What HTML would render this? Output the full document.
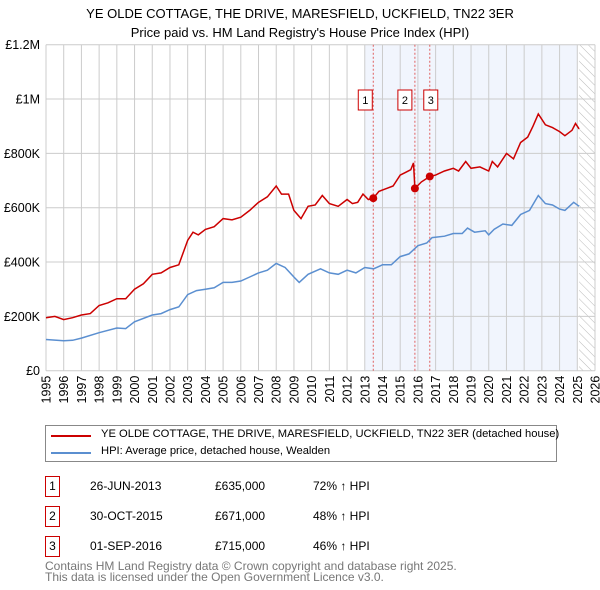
<!DOCTYPE html>
<html><head><meta charset="utf-8"><style>
body{margin:0;width:600px;height:590px;background:#fff;font-family:"Liberation Sans","DejaVu Sans",sans-serif;overflow:hidden;position:relative}
.t{position:absolute;font-size:12px;color:#000;white-space:nowrap}
</style></head><body>
<div style="position:absolute;left:0;width:600px;top:4px;text-align:center;font-size:13px;line-height:19px">YE OLDE COTTAGE, THE DRIVE, MARESFIELD, UCKFIELD, TN22 3ER<br>Price paid vs. HM Land Registry's House Price Index (HPI)</div>
<svg id="ch" width="600" height="420" style="position:absolute;left:0;top:0" font-family="Liberation Sans, DejaVu Sans, sans-serif"></svg>
<div style="position:absolute;left:45px;top:425px;width:510px;height:35px;border:1px solid #888">
<div style="position:absolute;left:5px;top:9px;width:40px;height:2px;background:#cc0000"></div>
<div class="t" style="left:55px;top:2px;font-size:11.2px">YE OLDE COTTAGE, THE DRIVE, MARESFIELD, UCKFIELD, TN22 3ER (detached house)</div>
<div style="position:absolute;left:5px;top:26px;width:40px;height:2px;background:#5b8fd0"></div>
<div class="t" style="left:55px;top:19px;font-size:11.2px">HPI: Average price, detached house, Wealden</div>
</div>
<div id="tbl"></div>
<div style="position:absolute;left:45px;top:561px;font-size:12px;line-height:11px;color:#777">Contains HM Land Registry data © Crown copyright and database right 2025.<br>This data is licensed under the Open Government Licence v3.0.</div>
<script>
const redYears=[1995,1995.5,1996,1996.5,1997,1997.5,1998,1998.5,1999,1999.5,2000,2000.5,2001,2001.5,2002,2002.5,2003,2003.3,2003.6,2004,2004.5,2005,2005.5,2006,2006.5,2007,2007.5,2008,2008.3,2008.7,2009,2009.4,2009.8,2010.2,2010.6,2011,2011.5,2012,2012.3,2012.6,2012.9,2013.2,2013.48,2013.8,2014.2,2014.6,2015,2015.3,2015.6,2015.75,2015.83,2016.2,2016.67,2017,2017.5,2018,2018.3,2018.7,2019,2019.5,2020,2020.2,2020.5,2021,2021.4,2021.8,2022.2,2022.5,2022.8,2023.2,2023.6,2024,2024.3,2024.7,2024.9,2025.1];
const redValues=[195,200,188,195,205,210,240,250,265,265,300,320,355,360,380,390,480,510,500,520,530,560,555,565,590,620,640,680,650,650,590,560,605,610,645,615,605,630,615,620,650,630,635,660,670,680,720,730,740,765,671,695,715,720,735,745,735,770,745,750,735,770,750,800,780,840,860,900,945,905,895,880,865,885,910,890];
const hpiYears=[1995,1996,1996.5,1997,1998,1999,1999.5,2000,2001,2001.5,2002,2002.5,2003,2003.5,2004,2004.5,2005,2005.5,2006,2006.5,2007,2007.5,2008,2008.5,2009,2009.3,2009.8,2010.5,2011,2011.5,2012,2012.5,2013,2013.5,2014,2014.5,2015,2015.5,2016,2016.5,2016.8,2017.5,2018,2018.5,2018.8,2019.2,2019.8,2020,2020.3,2020.8,2021.3,2021.8,2022.3,2022.8,2023.2,2023.6,2024,2024.3,2024.8,2025.1];
const hpiValues=[115,110,112,120,140,157,155,180,205,210,225,235,280,295,300,305,325,325,330,345,360,370,395,380,345,325,355,375,360,355,370,360,380,375,390,390,420,430,460,470,490,495,505,505,525,510,515,500,520,540,535,575,590,645,615,610,595,590,620,605];
const saleLabels=["1","2","3"];
const saleYears=[2013.48,2015.83,2016.67];
const saleValues=[635,671,715];
const saleDates=["26-JUN-2013","30-OCT-2015","01-SEP-2016"];
const salePrices=["£635,000","£671,000","£715,000"];
const saleDiffs=["72% ↑ HPI","48% ↑ HPI","46% ↑ HPI"];
const yTicks=[0,200,400,600,800,1000,1200];
const yTickLabels=["£0","£200K","£400K","£600K","£800K","£1M","£1.2M"];
const X0=1995,X1=2026,L=46,R=595,T=44.7,B=370.7;
const x=v=>L+(v-X0)/(X1-X0)*(R-L);
const y=v=>B-v/1200*(B-T);
const s=document.getElementById('ch');const NS='http://www.w3.org/2000/svg';
function mk(t,a,p){const e=document.createElementNS(NS,t);for(const k in a)e.setAttribute(k,a[k]);(p||s).appendChild(e);return e;}
const defs=mk('defs',{});const pat=mk('pattern',{id:'h',width:6,height:6,patternUnits:'userSpaceOnUse',patternTransform:'rotate(-45)'},defs);mk('line',{x1:0,y1:0,x2:0,y2:6,stroke:'#bbb','stroke-width':1},pat);
let e=mk('rect',{x:x(2013),y:T,width:x(2025)-x(2013),height:B-T,fill:'#eef3fc',opacity:0.8});

e=mk('rect',{x:x(2025.1),y:T,width:R-x(2025.1),height:B-T,fill:'url(#h)'});

for(let yr=1995;yr<=2026;yr++){e=mk('line',{x1:x(yr),x2:x(yr),y1:T,y2:B,stroke:'#ccc','stroke-width':1});
 e=mk('text',{x:0,y:0,transform:`translate(${x(yr)+4.5},${B+5}) rotate(-90)`,'text-anchor':'end','font-size':12.5});e.textContent=yr;}
yTicks.forEach((v,i)=>{e=mk('line',{x1:L,x2:R,y1:y(v),y2:y(v),stroke:'#ccc'});
 e=mk('text',{x:40,y:y(v)+4.5,'text-anchor':'end','font-size':12.5});e.textContent=yTickLabels[i];});
saleYears.forEach((yr,i)=>{e=mk('line',{x1:x(yr),x2:x(yr),y1:T,y2:B,stroke:'#e06060','stroke-dasharray':'2,2','stroke-width':1});});
function path(xs,vs,c,n){const d=xs.map((v,i)=>(i?'L':'M')+x(v).toFixed(1)+','+y(vs[i]).toFixed(1)).join('');const p=mk('path',{d,fill:'none',stroke:c,'stroke-width':1.5});}
path(hpiYears,hpiValues,'#5b8fd0','hpi-line');
path(redYears,redValues,'#cc0000','property-price-line');
saleYears.forEach((yr,i)=>{e=mk('circle',{cx:x(yr),cy:y(saleValues[i]),r:4,fill:'#cc0000'});
 const bx=x(yr)-(i==0?8:(i==1?10:-1))-7;
 e=mk('rect',{x:bx,y:90,width:14,height:20,fill:'#fff',stroke:'#cc0000'});
 e=mk('text',{x:bx+7,y:104,'text-anchor':'middle','font-size':11});e.textContent=saleLabels[i];});
const tb=document.getElementById('tbl');
saleLabels.forEach((l,i)=>{const top=476+i*30;
 const r=document.createElement('div');r.style.cssText=`position:absolute;left:45px;top:${top}px;width:400px;height:20px`;
 
 
 r.innerHTML=`<div style="position:absolute;left:0;top:0;width:13px;height:19px;border:1px solid #cc0000;font-size:12px;text-align:center;line-height:19px">${l}</div><div class="t" style="left:45px;top:3px">${saleDates[i]}</div><div class="t" style="left:170px;top:3px">${salePrices[i]}</div><div class="t" style="left:268px;top:3px">${saleDiffs[i]}</div>`;
 tb.appendChild(r);});
</script>
</body></html>
